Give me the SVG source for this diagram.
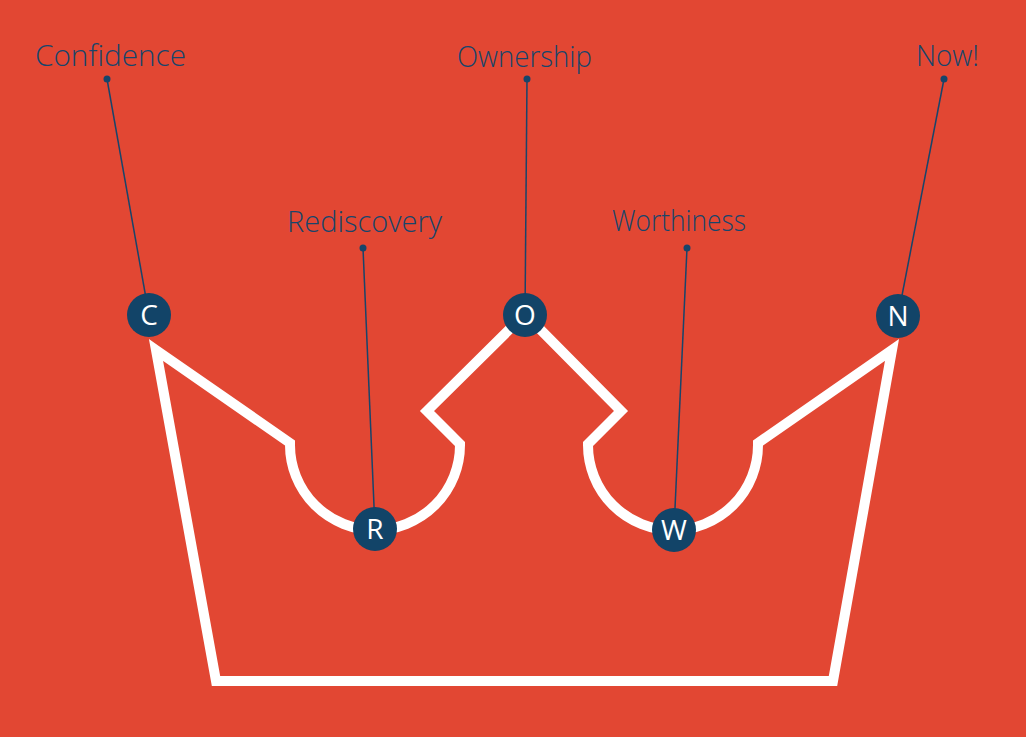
<svg xmlns="http://www.w3.org/2000/svg" width="1026" height="737" viewBox="0 0 1026 737">
<style>
.lbl{font-family:"Open Sans",Inter,"Liberation Sans",sans-serif;font-weight:300;font-size:29px;fill:#17456b}
.ltr{font-family:"Open Sans",Inter,"Liberation Sans",sans-serif;font-weight:400;font-size:28px;fill:#ffffff;text-anchor:middle}
.lead{stroke:#17456b;stroke-width:1.5;fill:none}
.dot{fill:#17456b}
.node{fill:#124468}
.crown{fill:none;stroke:#ffffff;stroke-width:10;stroke-linejoin:miter;stroke-miterlimit:10}
</style>
<rect width="1026" height="737" fill="#e24733"/>
<g id="crown">
<path class="crown" d="M156,350 L290,443 L290,445 A85,85 0 0 0 460,445 L460,444 L427,411 L525,314 L621,411 L588,444 L588,445 A85,85 0 0 0 758,445 L758,443 L892,350 L833,681 L216,681 Z"/>
</g>
<g id="connectors">
<line class="lead" x1="107" y1="79" x2="149" y2="315"/>
<line class="lead" x1="363" y1="248" x2="375" y2="529"/>
<line class="lead" x1="527" y1="79" x2="525" y2="315"/>
<line class="lead" x1="687" y1="248" x2="674" y2="530"/>
<line class="lead" x1="944" y1="79" x2="898" y2="316"/>
<circle class="dot" cx="107" cy="79" r="3.5"/>
<circle class="dot" cx="363" cy="248" r="3.5"/>
<circle class="dot" cx="527" cy="79" r="3.5"/>
<circle class="dot" cx="687" cy="248" r="3.5"/>
<circle class="dot" cx="944" cy="79" r="3.5"/>
</g>
<g id="confidence">
<text class="lbl" x="35" y="66" textLength="151" lengthAdjust="spacingAndGlyphs">Confidence</text>
<circle class="node" cx="149" cy="315" r="22"/>
<text class="ltr" x="149" y="325">C</text>
</g>
<g id="rediscovery">
<text class="lbl" x="287" y="232" textLength="155" lengthAdjust="spacingAndGlyphs">Rediscovery</text>
<circle class="node" cx="375" cy="529" r="22"/>
<text class="ltr" x="375" y="539">R</text>
</g>
<g id="ownership">
<text class="lbl" x="457" y="67" textLength="135" lengthAdjust="spacingAndGlyphs">Ownership</text>
<circle class="node" cx="525" cy="315" r="22"/>
<text class="ltr" x="525" y="325">O</text>
</g>
<g id="worthiness">
<text class="lbl" x="612" y="231" textLength="134" lengthAdjust="spacingAndGlyphs">Worthiness</text>
<circle class="node" cx="674" cy="530" r="22"/>
<text class="ltr" x="674" y="540">W</text>
</g>
<g id="now">
<text class="lbl" x="916" y="66" textLength="63" lengthAdjust="spacingAndGlyphs">Now!</text>
<circle class="node" cx="898" cy="316" r="22"/>
<text class="ltr" x="898" y="326">N</text>
</g>
</svg>
